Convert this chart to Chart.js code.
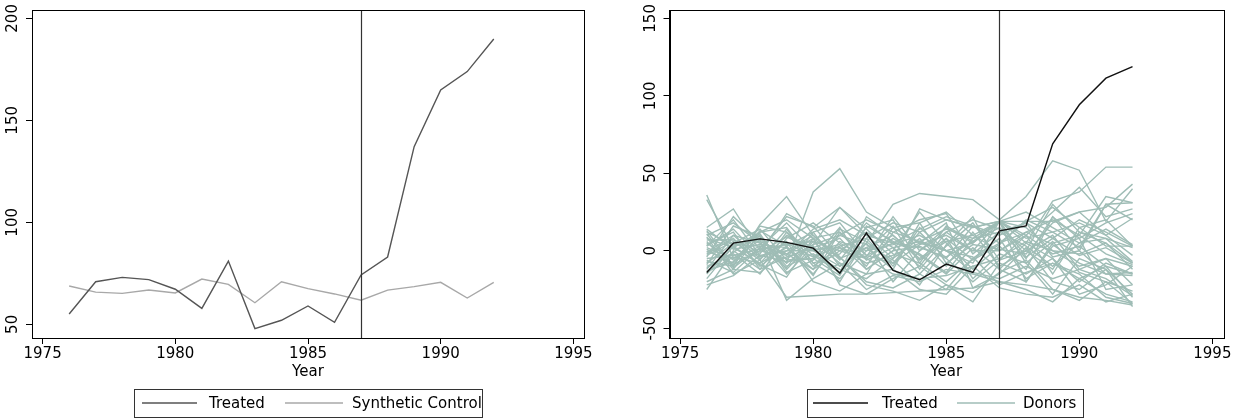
<!DOCTYPE html>
<html>
<head>
<meta charset="utf-8">
<script src="https://cdn.jsdelivr.net/npm/chart.js@4.4.0/dist/chart.umd.min.js"></script>
<style>
  html, body { margin: 0; padding: 0; background: #fff; }
  #wrap { position: relative; width: 1237px; height: 419px; }
  canvas { position: absolute; top: 0; }
</style>
</head>
<body>
<div id="wrap">
  <canvas id="left" width="618" height="419" style="left:0"></canvas>
  <canvas id="right" width="619" height="419" style="left:618px"></canvas>
</div>
<script>
// years and treatment
const years = [1976, 1977, 1978, 1979, 1980, 1981, 1982, 1983, 1984, 1985, 1986, 1987, 1988, 1989, 1990, 1991, 1992];
const treatYear = 1987;
const xTicks = [1975, 1980, 1985, 1990, 1995];
const leftYTicks = [50, 100, 150, 200];
const rightYTicks = [-50, 0, 50, 100, 150];

// left panel: levels
const treated = [55.1, 70.9, 73.0, 71.9, 67.2, 57.8, 81.0, 47.9, 52.0, 59.0, 51.0, 74.2, 83.0, 137.1, 164.9, 173.9, 189.9];
const synthetic = [68.8, 65.8, 65.2, 66.8, 65.4, 72.2, 69.6, 60.6, 70.9, 67.5, 64.9, 61.8, 66.8, 68.5, 70.6, 62.9, 70.6];

// right panel: gaps
const treatedGap = [-14.0, 4.9, 7.7, 5.4, 1.7, -14.4, 11.4, -12.7, -18.7, -8.6, -14.0, 12.9, 16.1, 69.0, 94.2, 111.4, 118.9];
const donors = [
  [36, -5, 3, -2, 8, 12, -3, 5, 2, -4, 6, 19, 10, 25, 41, 22, 27],
  [33, 2, -8, 10, 2, -15, 5, 30, 37, 35, 33, 20, 35, 58, 52, 19, 40],
  [15, 27, 0, -5, 4, 10, 20, 12, 6, 14, 8, 19, 5, 32, 38, 54, 54],
  [13, -10, 17, 35, 10, -5, 2, -12, 18, 25, 10, 0, 12, 20, 10, 35, 31],
  [10, 18, 5, -8, 38, 53, 25, 15, 5, 0, 5, 19, 19, 19, 25, 28, 43],
  [8, 2, 12, 15, -8, -2, 18, 5, -10, 12, 20, 14, -5, 22, 8, 18, 24],
  [5, -6, -2, 24, 15, 28, 10, -5, 27, 20, 15, 19, 8, 12, 18, 10, 21],
  [3, 14, -4, 5, -4, 3, 8, 18, 12, -5, 16, 5, 19, 28, 15, 3, 3],
  [0, -8, 10, -12, 6, -8, -15, 12, 20, 24, -2, 12, 3, -10, 5, 14, 4],
  [-2, 8, -10, 3, 12, 18, -3, -8, 4, 10, 0, 19, -4, 8, -3, 2, -8],
  [-4, 22, 6, -2, -12, 0, 12, 2, -15, 3, 18, -6, 10, -15, 12, 5, -8],
  [-6, -14, 2, 18, 0, -10, 5, -20, 0, 15, 5, 19, 15, 0, -10, -5, -10],
  [-8, 5, 14, -6, -5, 15, -12, 0, 25, 5, -12, 3, -12, 22, 0, -15, -14],
  [-10, -2, -15, 8, 18, 5, -5, 8, -3, -15, 2, -12, 5, -5, -20, -8, -15],
  [-12, 10, 5, -15, 3, -20, 8, -10, 15, 0, -8, 19, -20, 3, 8, -25, -22],
  [-14, -4, -8, 2, -15, 6, 0, 16, -12, 8, -18, -2, -8, -28, -5, -12, -28],
  [-18, 3, 8, -10, -2, -12, -18, -5, 8, -10, 12, -10, 0, 10, -12, -18, -29],
  [-22, -16, -3, 0, 10, -6, 15, 20, -8, -20, -5, 8, -18, -8, -15, -30, -34],
  [-25, 0, -12, 12, -10, 2, -8, -3, 5, 18, -24, -15, 2, -20, -25, -12, -36],
  [2, -5, 7, -32, -18, -8, -25, -16, -20, -12, -15, -20, -25, -33, -18, -28, -33],
  [-3, 6, -6, -30, -29, -28, -28, -27, -26, -25, -24, -20, -22, -25, -30, -32, -35],
  [6, -12, 12, 20, 8, -4, -22, -26, -32, -22, -33, -8, -15, -5, -28, -22, -10],
  [-1, 10, -5, 6, -20, -26, -15, -12, -25, -28, -10, -24, -28, -30, -22, -33, -28],
  [12, 4, 3, -3, 14, 20, 10, 5, 14, 22, 16, 10, 18, 8, 20, 12, 3],
  [-7, -10, 16, 12, -3, -14, 22, 10, -6, 6, 10, 19, 25, 15, 5, 8, 2],
  [4, 12, -12, -4, 2, 8, -10, 15, 18, -8, 4, 1, -2, 18, 25, 10, -3],
  [-5, -3, 1, 4, 6, 0, -5, -15, -18, -16, -10, -5, 6, 0, -2, 5, -12],
  [9, -15, -6, 14, -8, -18, 0, 4, 10, 0, -14, -18, -10, -18, -12, -5, -22],
  [-9, 16, 9, -8, 4, 28, 14, -2, -8, 16, 6, 15, 0, -12, 15, 20, 3],
  [1, -9, 0, 22, 16, -4, -20, -24, -15, -25, -5, 5, 12, 4, -8, -15, -16],
  [-11, -1, 11, -14, -6, 10, 4, -6, -22, 4, 22, -12, -20, 5, 10, -2, -9],
  [7, 7, -1, 9, 1, 2, -4, 22, 0, 12, 0, 0, 10, -2, 3, -10, -30],
  [-15, 3, -9, -17, 8, -22, -28, -18, -10, -22, -27, -14, -6, -25, -32, -20, -26],
  [14, 1, 4, 2, -12, 14, 6, -8, 12, 20, 15, 19, -8, 6, -14, -20, -34],
  [-20, -12, -14, 0, 0, 4, -12, 0, 3, -5, -20, -6, 0, 30, 12, 8, -7],
  [3, 20, -3, -7, -5, -16, 16, 6, -2, -14, 8, 12, 18, -4, 0, 30, 20],
  [-13, -7, 13, 3, -16, 12, -6, 2, 6, 0, -4, -22, -14, -8, -18, -10, -15],
  [11, -11, 2, -11, 12, -10, 2, 10, -5, 8, -6, 4, 20, 12, 2, 30, 31]
];

const FONT = { family: 'DejaVu Sans', size: 15 };
const pts = vals => years.map((y, i) => ({ x: y, y: vals[i] }));

// plot frame + vertical line at treatment year
const framePlugin = {
  id: 'frame',
  afterDatasetsDraw(chart) {
    const { ctx, chartArea: a, scales: { x } } = chart;
    ctx.save();
    ctx.lineWidth = 1.2;
    ctx.strokeStyle = '#333';
    const px = Math.round(x.getPixelForValue(treatYear)) + 0.5;
    ctx.beginPath();
    ctx.moveTo(px, a.top);
    ctx.lineTo(px, a.bottom);
    ctx.stroke();
    ctx.lineWidth = 1;
    ctx.strokeStyle = '#000';
    ctx.strokeRect(Math.round(a.left) + 0.5, Math.round(a.top) + 0.5,
      Math.round(a.right - a.left), Math.round(a.bottom - a.top));
    ctx.restore();
  }
};

// Stata-like boxed legend under the plot
const boxLegend = {
  id: 'boxLegend',
  afterDraw(chart, args, o) {
    const ctx = chart.ctx;
    ctx.save();
    ctx.lineWidth = 1;
    ctx.strokeStyle = '#333';
    ctx.strokeRect(o.box[0] + 0.5, o.box[1] + 0.5, o.box[2], o.box[3]);
    ctx.font = FONT.size + 'px "' + FONT.family + '"';
    ctx.textBaseline = 'alphabetic';
    o.items.forEach(it => {
      const ds = chart.data.datasets[it.ds];
      ctx.strokeStyle = ds.borderColor;
      ctx.lineWidth = 1.4;
      ctx.beginPath();
      ctx.moveTo(it.x0, o.lineY);
      ctx.lineTo(it.x1, o.lineY);
      ctx.stroke();
      ctx.fillStyle = '#000';
      ctx.fillText(ds.label, it.tx, o.textY);
    });
    ctx.restore();
  }
};

function axes(yTicks, ymin, ymax, yWidth) {
  return {
    x: {
      type: 'linear', min: 1974.6, max: 1995.4,
      afterBuildTicks: s => { s.ticks = xTicks.map(v => ({ value: v })); },
      afterFit: s => { s.height = 45; },
      grid: { display: true, drawOnChartArea: false, drawTicks: true, tickLength: 6, color: '#000' },
      border: { display: true, color: '#000' },
      ticks: { color: '#000', font: FONT, padding: 1, maxRotation: 0, autoSkip: false, callback: v => String(v) },
      title: { display: true, text: 'Year', color: '#000', font: FONT, padding: { top: 0, bottom: 2 } }
    },
    y: {
      type: 'linear', min: ymin, max: ymax,
      afterBuildTicks: s => { s.ticks = yTicks.map(v => ({ value: v })); },
      afterFit: s => { s.width = yWidth; },
      grid: { display: true, drawOnChartArea: false, drawTicks: true, tickLength: 6, color: '#000' },
      border: { display: true, color: '#000' },
      ticks: { color: '#000', font: FONT, padding: -1.8, minRotation: 90, maxRotation: 90, crossAlign: 'center', autoSkip: false, callback: v => String(v) }
    }
  };
}

const common = {
  responsive: false, animation: false, devicePixelRatio: 1,
  elements: { point: { radius: 0 }, line: { tension: 0 } },
  plugins: { legend: { display: false }, tooltip: { enabled: false } }
};

new Chart(document.getElementById('left'), {
  type: 'line',
  data: {
    datasets: [
      { label: 'Treated', data: pts(treated), borderColor: '#555555', borderWidth: 1.4 },
      { label: 'Synthetic Control', data: pts(synthetic), borderColor: '#a8a8a8', borderWidth: 1.4 }
    ]
  },
  options: Object.assign({}, common, {
    layout: { padding: { top: 10, right: 34, bottom: 36, left: 0 } },
    scales: axes(leftYTicks, 43.3, 204.1, 32),
    plugins: Object.assign({}, common.plugins, {
      boxLegend: {
        box: [134, 389, 348, 28], lineY: 403, textY: 408,
        items: [{ ds: 0, x0: 142, x1: 197, tx: 209 }, { ds: 1, x0: 285, x1: 343, tx: 352 }]
      }
    })
  }),
  plugins: [framePlugin, boxLegend]
});

const donorSets = donors.map((d, i) => ({
  label: i === 0 ? 'Donors' : 'Donor ' + (i + 1), data: pts(d), borderColor: '#9fbdb6', borderWidth: 1.4
}));

new Chart(document.getElementById('right'), {
  type: 'line',
  data: {
    datasets: [{ label: 'Treated', data: pts(treatedGap), borderColor: '#111111', borderWidth: 1.4 }].concat(donorSets)
  },
  options: Object.assign({}, common, {
    layout: { padding: { top: 10, right: 14, bottom: 36, left: 0 } },
    scales: axes(rightYTicks, -56.3, 155.4, 51.5),
    plugins: Object.assign({}, common.plugins, {
      boxLegend: {
        box: [189, 389, 276, 28], lineY: 403, textY: 408,
        items: [{ ds: 0, x0: 195, x1: 250, tx: 264 }, { ds: 1, x0: 339, x1: 397, tx: 405 }]
      }
    })
  }),
  plugins: [framePlugin, boxLegend]
});
</script>
</body>
</html>
